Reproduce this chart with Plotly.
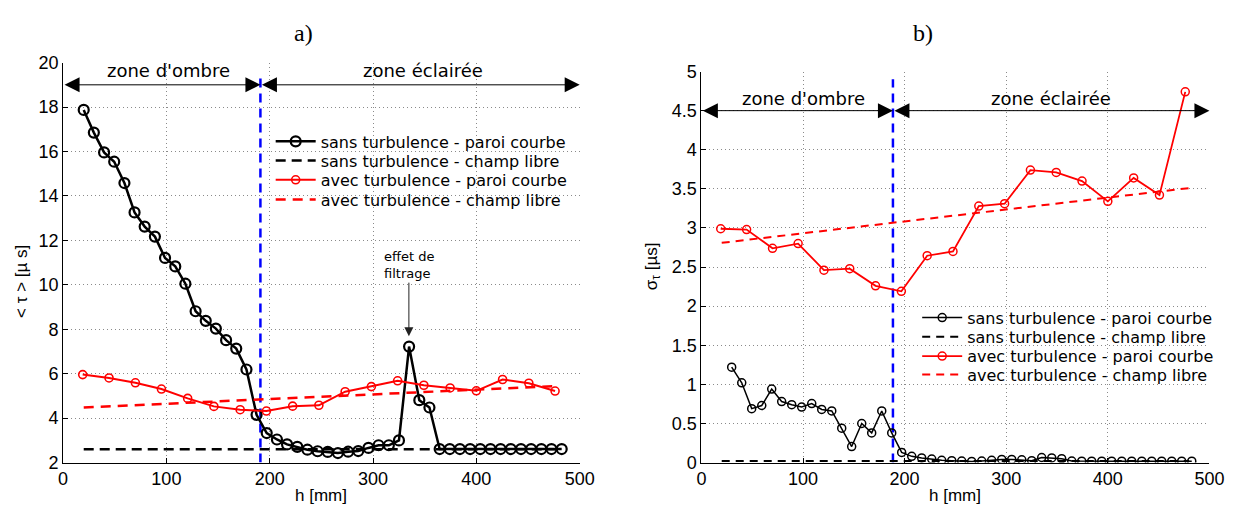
import plotly.graph_objects as go

# ---------------- data ----------------
h_sans = [20.0, 29.8, 39.7, 49.5, 59.4, 69.2, 79.0, 88.9, 98.7, 108.6, 118.4, 128.3,
          138.1, 147.9, 157.8, 167.6, 177.5, 187.3, 197.1, 207.0, 216.8, 226.7, 236.5,
          246.4, 256.2, 266.0, 275.9, 285.7, 295.6, 305.4, 315.3, 325.1, 334.9, 344.8,
          354.6, 364.5, 374.3, 384.1, 394.0, 403.8, 413.7, 423.5, 433.4, 443.2, 453.0,
          462.9, 472.7, 482.6]
tau_sans = [17.87, 16.85, 15.96, 15.54, 14.58, 13.26, 12.62, 12.17, 11.21, 10.83, 10.05,
            8.81, 8.38, 8.03, 7.51, 7.13, 6.19, 4.15, 3.33, 3.04, 2.82, 2.71, 2.58, 2.51,
            2.48, 2.43, 2.49, 2.52, 2.66, 2.78, 2.78, 3.00, 7.22, 4.81, 4.48, 2.61, 2.61,
            2.61, 2.61, 2.61, 2.61, 2.61, 2.61, 2.61, 2.61, 2.61, 2.61, 2.61]
h_sans_b = h_sans[1:]
sigma_sans = [1.22, 1.02, 0.69, 0.73, 0.94, 0.78, 0.74, 0.71, 0.755, 0.68, 0.66, 0.44,
              0.205, 0.50, 0.38, 0.66, 0.38, 0.13, 0.08, 0.06, 0.045, 0.03, 0.025, 0.02,
              0.015, 0.02, 0.03, 0.04, 0.04, 0.035, 0.025, 0.065, 0.06, 0.05, 0.02, 0.018,
              0.018, 0.018, 0.018, 0.018, 0.018, 0.018, 0.018, 0.018, 0.018, 0.018, 0.018]

h_avec = [19.0, 44.5, 70.0, 95.2, 120.6, 146.0, 171.4, 196.8, 222.2, 247.6, 273.0,
          298.4, 323.8, 349.2, 374.6, 400.0, 425.4, 450.8, 476.2]
tau_avec = [5.96, 5.81, 5.59, 5.31, 4.89, 4.53, 4.38, 4.32, 4.54, 4.58, 5.19, 5.42,
            5.68, 5.48, 5.36, 5.23, 5.74, 5.57, 5.22]
sigma_avec = [2.99, 2.98, 2.74, 2.80, 2.46, 2.48, 2.26, 2.19, 2.645, 2.70, 3.28, 3.31,
              3.74, 3.71, 3.60, 3.34, 3.64, 3.42, 4.74]

h_libre = [20, 480]
tau_libre_sans = [2.6, 2.6]
tau_libre_avec = [4.48, 5.45]
sigma_libre_sans = [0.02, 0.02]
sigma_libre_avec = [2.81, 3.51]

h_limite_a = 191
h_limite_b = 188.5
lim_a_y = [2, 19.5]
lim_b_y = [0, 4.9]

zone_y_a = 19
zone_y_b = 4.5

names = ["sans turbulence - paroi courbe", "sans turbulence - champ libre",
         "avec turbulence - paroi courbe", "avec turbulence - champ libre"]

TICKFONT = dict(family="Liberation Sans, Arial, sans-serif", size=18, color="black")
LABFONT = dict(family="Liberation Sans, Arial, sans-serif", size=17, color="black")
TXTFONT = dict(family="DejaVu Sans, sans-serif", size=18, color="black")
LEGFONT = dict(family="DejaVu Sans, sans-serif", size=16, color="black")

W, H = 1252, 520


def px_x(p):
    return p / W


def px_y(p):
    return (H - p) / H


fig = go.Figure()

# ---------- panel a ----------
fig.add_trace(go.Scatter(x=[h_limite_a, h_limite_a], y=lim_a_y, mode="lines",
                         line=dict(color="#0000ff", width=2.5, dash="9px,6px"),
                         showlegend=False, xaxis="x", yaxis="y"))
fig.add_trace(go.Scatter(x=h_sans, y=tau_sans, mode="lines+markers", name=names[0],
                         line=dict(color="black", width=2.5),
                         marker=dict(symbol="circle-open", size=10, color="black",
                                     line=dict(width=2.2, color="black")),
                         xaxis="x", yaxis="y", legend="legend"))
fig.add_trace(go.Scatter(x=h_libre, y=tau_libre_sans, mode="lines", name=names[1],
                         line=dict(color="black", width=2.5, dash="10px,6px"),
                         xaxis="x", yaxis="y", legend="legend2"))
fig.add_trace(go.Scatter(x=h_avec, y=tau_avec, mode="lines+markers", name=names[2],
                         line=dict(color="#ff0000", width=2),
                         marker=dict(symbol="circle-open", size=8, color="#ff0000",
                                     line=dict(width=1.6, color="#ff0000")),
                         xaxis="x", yaxis="y", legend="legend3"))
fig.add_trace(go.Scatter(x=h_libre, y=tau_libre_avec, mode="lines", name=names[3],
                         line=dict(color="#ff0000", width=2.5, dash="10px,7px"),
                         xaxis="x", yaxis="y", legend="legend4"))

# ---------- panel b ----------
fig.add_trace(go.Scatter(x=[h_limite_b, h_limite_b], y=lim_b_y, mode="lines",
                         line=dict(color="#0000ff", width=2.5, dash="9px,6px"),
                         showlegend=False, xaxis="x2", yaxis="y2"))
fig.add_trace(go.Scatter(x=h_sans_b, y=sigma_sans, mode="lines+markers", name=names[0],
                         line=dict(color="black", width=1.5),
                         marker=dict(symbol="circle-open", size=8, color="black",
                                     line=dict(width=1.5, color="black")),
                         xaxis="x2", yaxis="y2", legend="legend5"))
fig.add_trace(go.Scatter(x=h_libre, y=sigma_libre_sans, mode="lines", name=names[1],
                         line=dict(color="black", width=2, dash="8px,6px"),
                         xaxis="x2", yaxis="y2", legend="legend6"))
fig.add_trace(go.Scatter(x=h_avec, y=sigma_avec, mode="lines+markers", name=names[2],
                         line=dict(color="#ff0000", width=1.8),
                         marker=dict(symbol="circle-open", size=8, color="#ff0000",
                                     line=dict(width=1.5, color="#ff0000")),
                         xaxis="x2", yaxis="y2", legend="legend7"))
fig.add_trace(go.Scatter(x=h_libre, y=sigma_libre_avec, mode="lines", name=names[3],
                         line=dict(color="#ff0000", width=2, dash="8px,6px"),
                         xaxis="x2", yaxis="y2", legend="legend8"))

axis_common = dict(showline=True, linecolor="black", linewidth=1, mirror=False,
                   ticks="inside", ticklen=5, tickcolor="black", tickwidth=1,
                   showgrid=True, gridcolor="#8a8a8a", gridwidth=1, griddash="1px,3px",
                   zeroline=False, tickfont=TICKFONT)

annotations = []


def arrow(xref, yref, x0, x1, y):
    return dict(x=x1, y=y, ax=x0, ay=y, xref=xref, yref=yref, axref=xref, ayref=yref,
                showarrow=True, arrowhead=2, arrowside="end+start", arrowsize=3,
                arrowwidth=1, arrowcolor="black", standoff=0, startstandoff=0, text="")


annotations += [
    arrow("x", "y", 0, h_limite_a, zone_y_a),
    arrow("x", "y", h_limite_a, 500, zone_y_a),
    arrow("x2", "y2", 0, h_limite_b, zone_y_b),
    arrow("x2", "y2", h_limite_b, 500, zone_y_b),
    dict(x=102.5, y=19.64, xref="x", yref="y", text="zone d'ombre", showarrow=False,
         font=TXTFONT, xanchor="center", yanchor="middle"),
    dict(x=348.6, y=19.64, xref="x", yref="y", text="zone éclairée", showarrow=False,
         font=TXTFONT, xanchor="center", yanchor="middle"),
    dict(x=100, y=4.654, xref="x2", yref="y2", text="zone d'ombre", showarrow=False,
         font=TXTFONT, xanchor="center", yanchor="middle"),
    dict(x=344.2, y=4.66, xref="x2", yref="y2", text="zone éclairée", showarrow=False,
         font=TXTFONT, xanchor="center", yanchor="middle"),
    dict(x=334.7, y=7.69, xref="x", yref="y", text="effet de<br>filtrage", align="left",
         showarrow=True, arrowhead=2, arrowsize=1.8, arrowwidth=1, arrowcolor="#222",
         ax=0, ay=-71, standoff=0,
         font=dict(family="DejaVu Sans, sans-serif", size=13, color="black")),
    dict(x=px_x(303), y=px_y(24), xref="paper", yref="paper", text="a)", showarrow=False,
         font=dict(family="Liberation Serif, DejaVu Serif, serif", size=24, color="black"),
         xanchor="center", yanchor="middle"),
    dict(x=px_x(933), y=px_y(24), xref="paper", yref="paper", text="b)", showarrow=False,
         font=dict(family="Liberation Serif, DejaVu Serif, serif", size=24, color="black"),
         xanchor="center", yanchor="middle"),
    dict(x=px_x(321.5), y=px_y(505), xref="paper", yref="paper", text="h [mm]",
         showarrow=False, font=LABFONT, xanchor="center", yanchor="middle"),
    dict(x=px_x(965), y=px_y(505), xref="paper", yref="paper", text="h [mm]",
         showarrow=False, font=LABFONT, xanchor="center", yanchor="middle"),
    dict(x=px_x(16), y=px_y(282), xref="paper", yref="paper", text="< τ > [µ s]",
         textangle=-90, showarrow=False, font=LABFONT, xanchor="center", yanchor="middle"),
    dict(x=px_x(658), y=px_y(266), xref="paper", yref="paper",
         text="σ<sub>τ</sub> [µs]", textangle=-90, showarrow=False, font=LABFONT,
         xanchor="center", yanchor="middle"),
]

legend_common = dict(bgcolor="rgba(0,0,0,0)", borderwidth=0, font=LEGFONT,
                     itemwidth=40, xanchor="left", yanchor="middle", tracegroupgap=0)

leg_a_x = px_x(270)
leg_b_x = px_x(927)
leg_a_y = [136.7, 156.7, 176.7, 197.3]
leg_b_y = [320, 340, 360, 379.3]

layout_legends = {}
for i, yy in enumerate(leg_a_y):
    key = "legend" if i == 0 else "legend%d" % (i + 1)
    layout_legends[key] = dict(x=leg_a_x, y=px_y(yy), **legend_common)
for i, yy in enumerate(leg_b_y):
    layout_legends["legend%d" % (i + 5)] = dict(x=leg_b_x, y=px_y(yy), **legend_common)

fig.update_layout(
    width=W, height=H,
    margin=dict(l=0, r=0, t=0, b=0),
    paper_bgcolor="white", plot_bgcolor="white",
    xaxis=dict(domain=[px_x(59), px_x(584)], range=[0, 500], dtick=100, anchor="y",
               **axis_common),
    yaxis=dict(domain=[px_y(470.7), px_y(54.7)], range=[2, 20], dtick=2, anchor="x",
               **axis_common),
    xaxis2=dict(domain=[px_x(707.7), px_x(1224)], range=[0, 500], dtick=100, anchor="y2",
                **axis_common),
    yaxis2=dict(domain=[px_y(470.7), px_y(64)], range=[0, 5], dtick=0.5, anchor="x2",
                **axis_common),
    annotations=annotations,
    **layout_legends,
)

fig.write_html("out.html",
               config={"displayModeBar": False},
               post_script="document.body.style.margin='0';"
                           "document.body.style.overflow='hidden';")
